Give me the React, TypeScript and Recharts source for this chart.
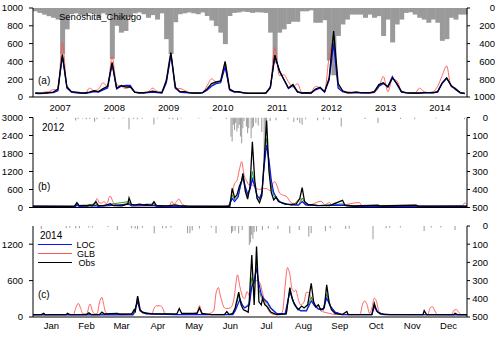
import React from 'react';
import { ComposedChart, Line, Bar, XAxis, YAxis } from 'recharts';

const FONT = "'Liberation Sans', Arial, Helvetica, sans-serif";
const FS = 9.5;

// ---------- Panel (a): monthly 2007-2014 ----------
const FIRST_YEAR = 2007;
const RAIN_M = [
  37, 55, 74, 92, 110, 130, 517, 240, 70, 60, 80, 90,
  60, 70, 110, 60, 80, 572, 200, 277, 258, 100, 60, 50,
  70, 110, 80, 130, 60, 350, 517, 160, 70, 60, 50, 60,
  70, 50, 90, 140, 203, 277, 406, 90, 55, 50, 40, 45,
  55, 48, 50, 55, 277, 620, 277, 240, 180, 155, 155, 37,
  37, 26, 166, 166, 137, 590, 756, 314, 185, 130, 74, 74,
  74, 110, 74, 110, 92, 314, 130, 387, 185, 130, 55, 48,
  74, 110, 130, 166, 130, 166, 369, 350, 110, 130, 74, 74,
];
const OBS_M = [
  45, 42, 45, 50, 55, 90, 480, 115, 60, 55, 48, 45,
  55, 70, 60, 95, 120, 390, 100, 130, 110, 115, 55, 48,
  48, 55, 65, 55, 50, 185, 500, 110, 60, 60, 50, 45,
  45, 50, 90, 150, 170, 180, 400, 90, 60, 60, 50, 42,
  42, 42, 42, 45, 110, 470, 290, 200, 100, 140, 60, 45,
  48, 45, 90, 110, 60, 210, 740, 150, 70, 50, 50, 55,
  50, 50, 50, 60, 140, 160, 110, 215, 150, 60, 50, 45,
  45, 45, 50, 50, 50, 60, 160, 215, 130, 90, 50, 40,
];
const LOC_M = [
  40, 38, 40, 45, 50, 70, 455, 100, 55, 45, 42, 40,
  50, 60, 55, 80, 100, 370, 90, 120, 130, 130, 55, 45,
  45, 50, 55, 50, 45, 160, 470, 100, 55, 50, 45, 42,
  42, 45, 75, 120, 150, 160, 335, 80, 55, 55, 45, 40,
  40, 40, 40, 42, 100, 460, 300, 190, 95, 130, 55, 42,
  45, 42, 80, 100, 55, 190, 600, 100, 60, 45, 45, 50,
  45, 45, 45, 55, 120, 150, 120, 230, 140, 55, 45, 42,
  42, 42, 45, 45, 45, 55, 150, 210, 125, 80, 45, 38,
];
const GLB_M = [
  40, 45, 55, 60, 85, 70, 610, 130, 60, 50, 45, 40,
  100, 70, 90, 160, 115, 455, 140, 120, 95, 110, 50, 45,
  50, 60, 100, 60, 55, 210, 480, 90, 95, 75, 50, 40,
  40, 50, 125, 205, 170, 180, 375, 70, 60, 55, 45, 40,
  40, 40, 40, 45, 130, 560, 240, 250, 170, 110, 150, 50,
  50, 55, 120, 100, 65, 450, 620, 130, 60, 60, 55, 60,
  45, 40, 40, 50, 110, 230, 60, 200, 180, 70, 50, 45,
  45, 100, 60, 50, 60, 120, 240, 350, 110, 100, 50, 45,
];
const ALT_M = [
  42, 40, 42, 48, 52, 75, 470, 105, 58, 50, 45, 42,
  52, 65, 58, 85, 110, 375, 95, 125, 120, 120, 55, 46,
  46, 52, 60, 52, 48, 170, 480, 105, 58, 55, 48, 44,
  44, 48, 80, 130, 160, 170, 360, 85, 58, 58, 48, 41,
  41, 41, 41, 44, 105, 465, 295, 195, 98, 135, 58, 44,
  46, 44, 85, 105, 58, 200, 650, 120, 65, 48, 48, 52,
  48, 48, 48, 58, 130, 155, 115, 220, 145, 58, 48, 44,
  44, 44, 48, 48, 48, 58, 155, 212, 128, 85, 48, 39,
];

// ---------- Panel (b): daily 2012, [day, value] ----------
const OBS_2012: [number, number][] = [
  [0, 45], [30, 40], [35, 45], [37, 165], [39, 60], [43, 70], [45, 50], [48, 80], [50, 55], [53, 200], [55, 70],
  [60, 60], [63, 100], [65, 130], [68, 60], [75, 55], [80, 120], [81, 320], [83, 100], [86, 90], [90, 110],
  [93, 90], [96, 100], [100, 70], [102, 190], [104, 70], [110, 55], [115, 60], [120, 90], [123, 60], [130, 45],
  [150, 40], [166, 40], [168, 640], [170, 330], [172, 420], [174, 700], [176, 900], [177, 1140], [179, 550],
  [181, 280], [183, 700], [185, 2190], [187, 900], [189, 300], [191, 160], [193, 400], [195, 1600], [197, 2900],
  [199, 1200], [201, 500], [203, 250], [205, 350], [207, 200], [210, 150], [214, 110], [218, 100], [222, 120],
  [225, 300], [227, 660], [229, 200], [232, 100], [240, 70], [250, 60], [261, 240], [263, 80], [270, 50],
  [291, 80], [293, 50], [323, 80], [325, 45], [366, 45],
];
const LOC_2012: [number, number][] = [
  [0, 35], [36, 35], [37, 80], [39, 40], [53, 60], [55, 40], [81, 110], [83, 50], [102, 70], [104, 40],
  [165, 35], [168, 300], [170, 200], [173, 350], [175, 750], [177, 1050], [179, 700], [181, 450], [183, 600],
  [185, 950], [187, 700], [189, 400], [191, 300], [193, 500], [195, 1400], [197, 2080], [199, 1600], [201, 900],
  [203, 500], [205, 350], [208, 200], [212, 120], [218, 90], [224, 80], [227, 200], [230, 90], [240, 60],
  [261, 80], [270, 40], [366, 35],
];
const GLB_2012: [number, number][] = [
  [0, 40], [35, 40], [37, 100], [40, 50], [52, 100], [54, 300], [56, 150], [58, 150], [60, 200], [62, 120],
  [65, 380], [68, 150], [72, 60], [81, 150], [84, 60], [115, 60], [117, 200], [119, 100], [121, 200], [123, 280],
  [126, 100], [130, 50], [160, 40], [166, 100], [168, 500], [170, 800], [172, 900], [174, 1250], [176, 1530],
  [178, 1080], [180, 900], [182, 760], [185, 745], [188, 650], [191, 600], [194, 640], [197, 630], [200, 560],
  [202, 780], [204, 860], [206, 700], [208, 480], [211, 410], [214, 360], [217, 190], [220, 120], [225, 300],
  [228, 150], [232, 70], [243, 210], [246, 90], [250, 165], [252, 80], [255, 150], [258, 70], [275, 165],
  [278, 60], [323, 80], [326, 40], [362, 60], [364, 150], [366, 100],
];
const ALT_2012: [number, number][] = [
  [0, 40], [36, 40], [37, 120], [39, 50], [53, 120], [55, 50], [81, 200], [83, 70], [102, 120], [104, 45],
  [165, 40], [168, 420], [170, 250], [173, 380], [175, 700], [177, 1000], [179, 650], [181, 400], [183, 650],
  [185, 1200], [187, 750], [189, 300], [191, 250], [193, 450], [195, 1450], [197, 2300], [199, 1400], [201, 700],
  [203, 400], [205, 300], [208, 180], [212, 110], [218, 90], [224, 90], [227, 320], [230, 100], [240, 60],
  [261, 120], [264, 50], [291, 60], [293, 40], [366, 40],
];
const RAIN_2012: [number, number][] = [
  [20, 5], [36, 17], [38, 8], [42, 6], [45, 10], [48, 8], [52, 24], [54, 10], [60, 6], [64, 8], [68, 5], [76, 6],
  [81, 65], [85, 8], [88, 10], [92, 7], [102, 39], [105, 6], [115, 8], [118, 10], [122, 12], [125, 6], [140, 5],
  [150, 6], [163, 8], [167, 107], [168, 134], [169, 40], [170, 70], [171, 30], [172, 78], [173, 60], [174, 40],
  [175, 106], [176, 143], [177, 60], [178, 20], [180, 50], [181, 88], [182, 60], [184, 115], [185, 60], [186, 50],
  [188, 30], [190, 45], [193, 80], [195, 220], [196, 160], [197, 40], [200, 20], [205, 15], [215, 10], [220, 25],
  [223, 15], [225, 30], [227, 40], [230, 10], [240, 15], [245, 10], [250, 12], [260, 50], [280, 8], [291, 30],
  [310, 8], [322, 10], [340, 6], [364, 10],
];

// ---------- Panel (c): daily 2014 ----------
const OBS_2014: [number, number][] = [
  [0, 40], [7, 40], [9, 60], [10, 40], [28, 40], [29, 60], [31, 40], [45, 40], [47, 70], [49, 40], [56, 40],
  [58, 80], [60, 50], [71, 60], [73, 45], [83, 50], [85, 120], [86, 90], [88, 345], [90, 120], [92, 80], [94, 70],
  [97, 60], [100, 50], [121, 50], [123, 140], [125, 60], [138, 60], [140, 150], [142, 60], [150, 40], [161, 40],
  [163, 90], [165, 40], [168, 60], [170, 150], [173, 410], [175, 200], [177, 120], [179, 100], [181, 80],
  [182, 300], [184, 1020], [186, 200], [188, 1160], [190, 250], [192, 200], [193, 310], [195, 200], [197, 170],
  [200, 80], [205, 40], [213, 50], [216, 485], [218, 300], [220, 200], [223, 120], [226, 180], [228, 150],
  [231, 200], [234, 555], [236, 250], [238, 170], [240, 200], [242, 120], [245, 150], [247, 530], [249, 250],
  [251, 120], [254, 60], [260, 40], [264, 90], [265, 40], [285, 40], [287, 225], [289, 100], [292, 50],
  [300, 40], [328, 40], [329, 105], [331, 40], [354, 40], [355, 60], [357, 40], [365, 40],
];
const LOC_2014: [number, number][] = [
  [0, 35], [84, 35], [88, 250], [90, 100], [95, 50], [120, 40], [168, 40], [170, 100], [174, 290], [176, 200],
  [178, 150], [182, 200], [184, 500], [186, 600], [188, 800], [190, 550], [192, 370], [194, 300], [197, 250],
  [200, 150], [205, 60], [212, 50], [216, 420], [219, 250], [222, 150], [225, 100], [230, 100], [234, 265],
  [237, 180], [240, 130], [244, 120], [247, 310], [250, 180], [254, 80], [260, 40], [285, 40], [287, 170],
  [290, 80], [295, 40], [365, 35],
];
const GLB_2014: [number, number][] = [
  [0, 40], [34, 40], [36, 150], [38, 225], [40, 150], [42, 50], [45, 50], [48, 215], [50, 100], [52, 50],
  [54, 60], [56, 250], [58, 325], [59, 250], [61, 80], [63, 50], [85, 60], [87, 200], [88, 330], [90, 150],
  [92, 60], [100, 60], [102, 150], [104, 185], [107, 185], [109, 150], [111, 60], [120, 40], [130, 40], [138, 80],
  [140, 190], [142, 80], [145, 40], [152, 100], [154, 400], [156, 485], [157, 400], [159, 250], [161, 150],
  [163, 140], [166, 150], [169, 300], [171, 600], [172, 695], [174, 500], [176, 350], [178, 300], [180, 420],
  [182, 350], [184, 500], [186, 580], [188, 600], [191, 555], [193, 400], [195, 250], [197, 150], [199, 80],
  [203, 40], [208, 40], [210, 100], [212, 500], [214, 815], [216, 700], [218, 450], [220, 420], [221, 445],
  [223, 300], [225, 200], [228, 250], [230, 410], [232, 400], [234, 310], [236, 200], [238, 160], [240, 200],
  [242, 100], [245, 80], [249, 60], [255, 40], [275, 40], [277, 200], [279, 265], [281, 200], [283, 60],
  [285, 150], [287, 310], [289, 250], [291, 80], [293, 40], [332, 40], [334, 150], [336, 170], [338, 100],
  [340, 40], [352, 40], [354, 110], [356, 125], [358, 80], [360, 40], [365, 40],
];
const ALT_2014: [number, number][] = [
  [0, 38], [85, 45], [88, 300], [90, 110], [95, 55], [120, 42], [168, 42], [170, 120], [173, 350], [176, 200],
  [178, 150], [182, 230], [184, 650], [186, 550], [188, 900], [190, 450], [192, 320], [194, 300], [197, 220],
  [200, 130], [205, 55], [213, 50], [216, 450], [219, 260], [222, 150], [225, 110], [230, 110], [234, 330],
  [237, 190], [240, 140], [244, 130], [247, 380], [250, 190], [254, 80], [260, 42], [285, 42], [287, 200],
  [290, 80], [295, 42], [365, 38],
];
const RAIN_2014: [number, number][] = [
  [7, 16], [28, 12], [31, 10], [36, 14], [39, 12], [47, 8], [50, 8], [63, 6], [71, 22], [83, 12], [86, 14],
  [88, 18], [92, 10], [102, 40], [109, 13], [112, 12], [116, 8], [130, 40], [132, 40], [134, 25], [140, 14],
  [150, 8], [154, 40], [167, 40], [168, 30], [170, 26], [173, 40], [176, 22], [182, 105], [183, 90], [184, 50],
  [185, 70], [186, 35], [188, 30], [193, 22], [198, 14], [206, 16], [216, 40], [224, 22], [232, 58], [234, 40],
  [246, 28], [250, 13], [263, 16], [266, 14], [286, 73], [297, 13], [300, 10], [309, 8], [329, 28], [335, 8],
  [343, 8], [355, 22],
];

const MONTH_NAMES = ['Jan', 'Feb', 'Mar', 'Apr', 'May', 'Jun', 'Jul', 'Aug', 'Sep', 'Oct', 'Nov', 'Dec'];
const MONTH_STARTS_2014 = [0, 31, 59, 90, 120, 151, 181, 212, 243, 273, 304, 334, 365];

const FLOW_TICKS_A = [0, 200, 400, 600, 800, 1000];
const FLOW_TICKS_B = [0, 600, 1200, 1800, 2400, 3000];
const FLOW_TICKS_C = [0, 600, 1200];
const RAIN_TICKS_A = [0, 200, 400, 600, 800, 1000];
const RAIN_TICKS_D = [0, 100, 200, 300, 400, 500];

const LEGEND = [
  { name: 'LOC', color: '#1010ff', w: 1.3 },
  { name: 'GLB', color: '#ff5555', w: 1 },
  { name: 'Obs', color: '#000000', w: 1.4 },
];

// ---------- table building ----------
const monthlyRows = RAIN_M.map((r, i) => ({
  i, rain: r, obs: OBS_M[i], loc: LOC_M[i], glb: GLB_M[i], alt: ALT_M[i],
}));

function mergeDaily(series: Record<string, [number, number][]>) {
  const map = new Map<number, any>();
  Object.entries(series).forEach(([key, pts]) => {
    pts.forEach(([d, v]) => {
      const row = map.get(d) || { d };
      row[key] = v;
      map.set(d, row);
    });
  });
  return Array.from(map.values()).sort((a, b) => a.d - b.d);
}
const rows2012 = mergeDaily({ obs: OBS_2012, loc: LOC_2012, glb: GLB_2012, alt: ALT_2012, rain: RAIN_2012 });
const rows2014 = mergeDaily({ obs: OBS_2014, loc: LOC_2014, glb: GLB_2014, alt: ALT_2014, rain: RAIN_2014 });
const monthCenters = MONTH_NAMES.map((_, k) => (MONTH_STARTS_2014[k] + MONTH_STARTS_2014[k + 1]) / 2);

// ---------- axis helpers ----------
const leftAxis = (domain: number[], ticks: number[]) => (
  <YAxis
    yAxisId="flow" domain={domain} ticks={ticks} width={33} allowDataOverflow interval={0}
    tickSize={4} tickMargin={6}
    axisLine={{ stroke: '#000' }} tickLine={{ stroke: '#000' }}
    tick={{ fill: '#000', fontSize: FS, fontFamily: FONT }}
  />
);
const rightAxis = (domain: number[], ticks: number[], endX: number) => (
  <YAxis
    yAxisId="rain" orientation="right" reversed domain={domain} ticks={ticks} width={33}
    allowDataOverflow interval={0} tickSize={3} tickMargin={2}
    axisLine={{ stroke: '#000' }} tickLine={{ stroke: '#000' }}
    tick={(p: any) => (
      <text x={endX} y={p.y} dy="0.35em" textAnchor="end" fill="#000" fontSize={FS} fontFamily={FONT}>
        {p.payload.value}
      </text>
    )}
  />
);
const topFrame = (dataKey: string, type: 'number' | 'category', domain?: number[]) => (
  <XAxis
    xAxisId="top" orientation="top" dataKey={dataKey} type={type} domain={domain as any}
    height={0} tick={false} tickLine={false} axisLine={{ stroke: '#000' }}
  />
);
const seriesLines = () => [
  <Line key="glb" yAxisId="flow" dataKey="glb" stroke="#ff5555" strokeWidth={0.9} dot={false} connectNulls isAnimationActive={false} type="monotone" />,
  <Line key="alt" yAxisId="flow" dataKey="alt" stroke="#00a000" strokeWidth={0.9} dot={false} connectNulls isAnimationActive={false} />,
  <Line key="loc" yAxisId="flow" dataKey="loc" stroke="#1010ff" strokeWidth={1.2} dot={false} connectNulls isAnimationActive={false} />,
  <Line key="obs" yAxisId="flow" dataKey="obs" stroke="#000000" strokeWidth={1.3} dot={false} connectNulls isAnimationActive={false} />,
];

const label = (text: string, left: number, top: number, size = FS + 0.5) => (
  <span style={{ position: 'absolute', left, top, fontFamily: FONT, fontSize: size, lineHeight: `${size}px`, whiteSpace: 'nowrap', color: '#000' }}>
    {text}
  </span>
);

export default function App() {
  return (
    <div style={{ position: 'absolute', left: 0, top: 0, width: 500, height: 337, background: '#fff', overflow: 'hidden' }}>
      {/* Panel (a) */}
      <div style={{ position: 'absolute', left: 0, top: 0 }}>
        <ComposedChart width={500} height={116} data={monthlyRows} margin={{ top: 8, right: 0, bottom: 0, left: 0 }} barCategoryGap={0} barGap={0}>
          <XAxis
            dataKey="i" height={19} interval={0} tickLine={false} axisLine={{ stroke: '#000' }}
            tick={(p: any) => (p.payload.value % 12 === 6 ? (
              <text x={p.x - 2.26} y={108} dy="0.35em" textAnchor="middle" fill="#000" fontSize={FS} fontFamily={FONT}>
                {FIRST_YEAR + Math.floor(p.payload.value / 12)}
              </text>
            ) : <g />)}
          />
          {topFrame('i', 'category')}
          {leftAxis([0, 1000], FLOW_TICKS_A)}
          {rightAxis([0, 1000], RAIN_TICKS_A, 495)}
          <Bar yAxisId="rain" dataKey="rain" fill="#9a9a9a" isAnimationActive={false} />
          {seriesLines()}
        </ComposedChart>
      </div>

      {/* Panel (b) */}
      <div style={{ position: 'absolute', left: 0, top: 106 }}>
        <ComposedChart width={500} height={107} data={rows2012} margin={{ top: 11.5, right: 0, bottom: 0, left: 0 }}>
          <XAxis dataKey="d" type="number" domain={[0, 366]} allowDataOverflow height={5.5} tick={false} tickLine={false} axisLine={{ stroke: '#000' }} />
          {topFrame('d', 'number', [0, 366])}
          {leftAxis([0, 3000], FLOW_TICKS_B)}
          {rightAxis([0, 500], RAIN_TICKS_D, 488)}
          <Bar yAxisId="rain" dataKey="rain" fill="#a0a0a0" barSize={1.2} isAnimationActive={false} />
          {seriesLines()}
        </ComposedChart>
      </div>

      {/* Panel (c) */}
      <div style={{ position: 'absolute', left: 0, top: 214 }}>
        <ComposedChart width={500} height={123} data={rows2014} margin={{ top: 12, right: 0, bottom: 0, left: 0 }}>
          <XAxis
            dataKey="d" type="number" domain={[0, 365]} allowDataOverflow height={20} ticks={monthCenters} interval={0}
            tickLine={false} axisLine={{ stroke: '#000' }}
            tick={(p: any) => {
              const k = monthCenters.indexOf(p.payload.value);
              return (
                <text x={p.x} y={112} dy="0.35em" textAnchor="middle" fill="#000" fontSize={FS} fontFamily={FONT}>
                  {MONTH_NAMES[k]}
                </text>
              );
            }}
          />
          {topFrame('d', 'number', [0, 365])}
          {leftAxis([0, 1500], FLOW_TICKS_C)}
          {rightAxis([0, 500], RAIN_TICKS_D, 488)}
          <Bar yAxisId="rain" dataKey="rain" fill="#a0a0a0" barSize={1.2} isAnimationActive={false} />
          {seriesLines()}
        </ComposedChart>
      </div>

      {label('Senoshita_Chikugo', 59, 12, 9.5)}
      {label('(a)', 38, 76)}
      {label('2012', 42, 123)}
      {label('(b)', 38, 182)}
      {label('2014', 40, 231)}
      {label('(c)', 38, 290)}

      {/* Legend for panel (c) */}
      {LEGEND.map((it, k) => (
        <div key={it.name}>
          <div style={{ position: 'absolute', left: 38, width: 34, top: 245 + k * 8.8 - it.w / 2, height: 0, borderTop: `${it.w}px solid ${it.color}` }} />
          <span style={{ position: 'absolute', left: 70, width: 25, top: 241 + k * 8.8, textAlign: 'right', fontFamily: FONT, fontSize: 9, lineHeight: '8px', color: '#000' }}>
            {it.name}
          </span>
        </div>
      ))}
    </div>
  );
}
